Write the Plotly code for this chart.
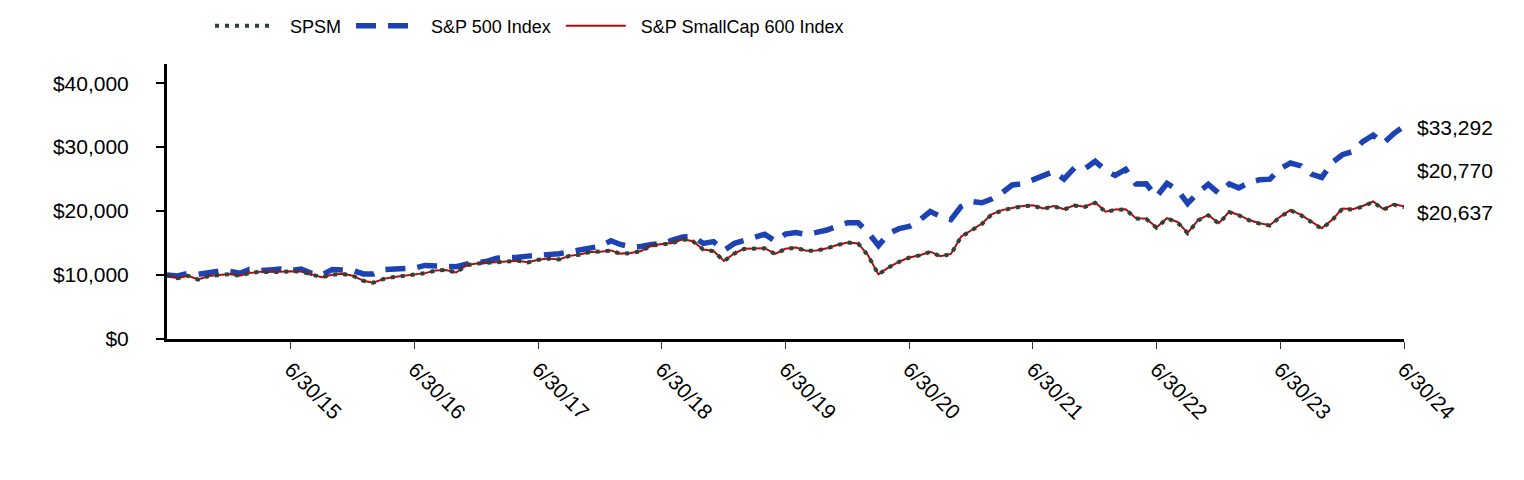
import pandas as pd
import plotly.graph_objects as go

# Month-end dates, 6/30/14 .. 6/30/24
dates = pd.date_range("2014-06-30", "2024-06-30", freq="ME")

spsm = [
    10000, 9495, 9895, 9295, 9845, 9995, 10145, 9895, 10295, 10495,
    10445, 10495, 10595, 10545, 10095, 9645, 10045, 10190, 9890, 9090,
    8790, 9390, 9690, 9890, 9990, 10290, 10690, 10790, 10390, 11540,
    11790, 11890, 12085, 12185, 12235, 11985, 12385, 12585, 12435, 12985,
    13185, 13585, 13635, 13830, 13330, 13430, 13730, 14630, 14780, 14980,
    15575, 15275, 13980, 13730, 12180, 13380, 14080, 14180, 14180, 13280,
    14075, 14275, 13775, 13825, 14175, 14675, 15075, 14925, 13075, 10080,
    11180, 12075, 12725, 13075, 13620, 12925, 13270, 15965, 16965, 18010,
    19460, 20110, 20455, 20755, 20855, 20355, 20755, 20255, 20850, 20650,
    21300, 19850, 20200, 20250, 18850, 18750, 17400, 18845, 18250, 16550,
    18545, 19340, 18045, 19840, 19340, 18545, 18045, 17745, 19040, 20135,
    19335, 18240, 17240, 18540, 20335, 20230, 20725, 21425, 20225, 20975,
    20637,
]

sp500 = [
    10000, 9867, 10250, 10105, 10357, 10629, 10598, 10284, 10868, 10692,
    10802, 10926, 10713, 10943, 10271, 10015, 10861, 10882, 10710, 10180,
    10153, 10841, 10884, 11069, 11096, 11509, 11510, 11511, 11306, 11710,
    11942, 12173, 12646, 12659, 12791, 12959, 13038, 13311, 13341, 13615,
    13939, 14354, 14517, 15355, 14779, 14402, 14462, 14795, 14888, 15447,
    15943, 16033, 14944, 15231, 13855, 14966, 15431, 15731, 16379, 15323,
    16404, 16641, 16364, 16674, 17041, 17645, 18178, 18176, 16667, 14608,
    16480, 17253, 17595, 18595, 19925, 19174, 18671, 20711, 21509, 21300,
    21890, 22853, 24086, 24255, 24831, 25430, 26210, 25001, 26765, 26584,
    27781, 26363, 25572, 26523, 24228, 24264, 22262, 24326, 23330, 21185,
    22908, 24174, 22787, 24229, 23627, 24490, 24886, 24988, 26641, 27515,
    27069, 25787, 25258, 27552, 28813, 29316, 30872, 31878, 30601, 32117,
    33292,
]

sp600 = [
    10000, 9500, 9900, 9300, 9850, 10000, 10150, 9900, 10300, 10500,
    10450, 10500, 10600, 10550, 10100, 9650, 10050, 10200, 9900, 9100,
    8800, 9400, 9700, 9900, 10000, 10300, 10700, 10800, 10400, 11550,
    11800, 11900, 12100, 12200, 12250, 12000, 12400, 12600, 12450, 13000,
    13200, 13600, 13650, 13850, 13350, 13450, 13750, 14650, 14800, 15000,
    15600, 15300, 14000, 13750, 12200, 13400, 14100, 14200, 14200, 13300,
    14100, 14300, 13800, 13850, 14200, 14700, 15100, 14950, 13100, 10100,
    11200, 12100, 12750, 13100, 13650, 12950, 13300, 16000, 17000, 18050,
    19500, 20150, 20500, 20800, 20900, 20400, 20800, 20300, 20900, 20700,
    21350, 19900, 20250, 20300, 18900, 18800, 17450, 18900, 18300, 16600,
    18600, 19400, 18100, 19900, 19400, 18600, 18100, 17800, 19100, 20200,
    19400, 18300, 17300, 18600, 20400, 20300, 20800, 21500, 20300, 21050,
    20770,
]

series_names = ["SPSM", "S&P 500 Index", "S&P SmallCap 600 Index"]

tick_dates = ["2015-06-30", "2016-06-30", "2017-06-30", "2018-06-30", "2019-06-30",
              "2020-06-30", "2021-06-30", "2022-06-30", "2023-06-30", "2024-06-30"]
tick_text = ["6/30/15", "6/30/16", "6/30/17", "6/30/18", "6/30/19",
             "6/30/20", "6/30/21", "6/30/22", "6/30/23", "6/30/24"]
y_ticks = [0, 10000, 20000, 30000, 40000]

FONT = "Liberation Sans, Arial, sans-serif"
NB = "\u00a0"


def legend_label(name):
    return NB * 2 + name + NB


fig = go.Figure()
fig.add_trace(go.Scatter(
    x=dates, y=sp500, mode="lines", name=legend_label(series_names[1]), legendrank=2,
    line=dict(color="#1C42B4", width=5.5, dash="20px,12px"),
))
fig.add_trace(go.Scatter(
    x=dates, y=sp600, mode="lines", name=legend_label(series_names[2]), legendrank=3,
    line=dict(color="#B00C0C", width=2),
))
fig.add_trace(go.Scatter(
    x=dates, y=spsm, mode="lines", name=legend_label(series_names[0]), legendrank=1,
    line=dict(color="#2A4438", width=4, dash="4px,6px"),
))

# end-value labels (vertical positions set to avoid overlap)
label_pos = [(sp500[-1], 33100), (sp600[-1], 26400), (spsm[-1], 19800)]
for val, ypos in label_pos:
    fig.add_annotation(
        x=1.0, xref="paper", xshift=11, y=ypos, yref="y",
        text=f"${val:,}", showarrow=False, xanchor="left", yanchor="middle",
        font=dict(family=FONT, size=21, color="#000000"),
    )

W, H = 1516, 472
fig.update_layout(
    width=W, height=H,
    margin=dict(l=159, r=120, t=56, b=141, autoexpand=False),
    paper_bgcolor="white", plot_bgcolor="white",
    font=dict(family=FONT, color="#000000"),
    showlegend=True,
    legend=dict(
        orientation="h", xref="container", yref="container",
        x=202 / W, xanchor="left", y=1 - 18 / H, yanchor="middle",
        font=dict(family=FONT, size=18, color="#000000"),
        itemwidth=60, bgcolor="rgba(0,0,0,0)",
    ),
)
fig.update_xaxes(
    range=[dates[0], dates[-1]],
    tickmode="array", tickvals=tick_dates, ticktext=tick_text,
    tickangle=45, tickfont=dict(family=FONT, size=21, color="#000000"),
    ticks="outside", ticklen=7, tickwidth=1, tickcolor="#333333",
    showline=True, linecolor="#000000", linewidth=3,
    showgrid=False, zeroline=False,
)
fig.update_yaxes(
    range=[0, 43000],
    tickmode="array", tickvals=y_ticks, tickformat="$,.0f",
    tickfont=dict(family=FONT, size=21, color="#000000"),
    ticks="outside", ticklen=8, tickwidth=2, tickcolor="#000000",
    ticklabelstandoff=23,
    showline=True, linecolor="#000000", linewidth=3,
    showgrid=False, zeroline=False,
)

fig.write_html("out.html")
